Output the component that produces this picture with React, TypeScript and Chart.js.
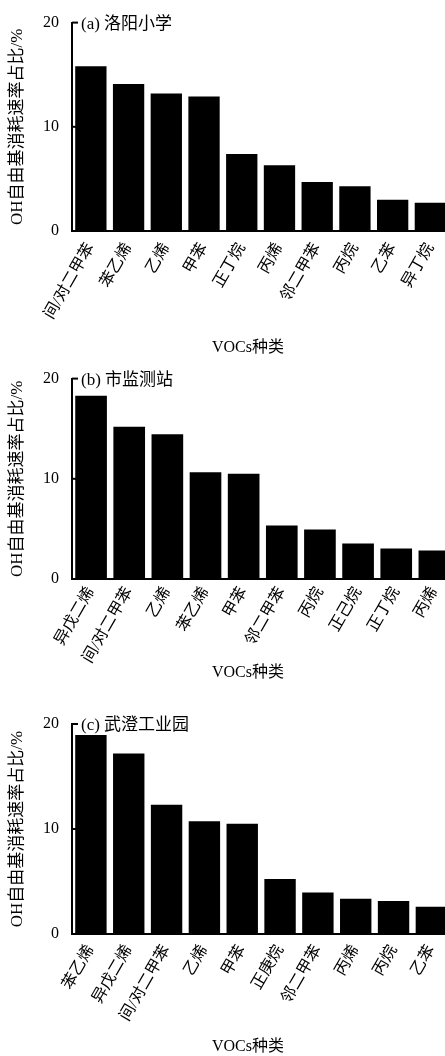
import React, { useEffect, useRef } from "react";
import { Chart, registerables } from "chart.js";
Chart.register(...registerables);

const yTickValues = [0, 10, 20];
const yTitle = "OH自由基消耗速率占比/%";
const xTitle = "VOCs种类";

const titleA = "(a) 洛阳小学";
const catsA = ["间/对二甲苯", "苯乙烯", "乙烯", "甲苯", "正丁烷", "丙烯", "邻二甲苯", "丙烷", "乙苯", "异丁烷"];
const valsA = [15.8, 14.1, 13.2, 12.9, 7.4, 6.3, 4.7, 4.3, 3.0, 2.7];

const titleB = "(b) 市监测站";
const catsB = ["异戊二烯", "间/对二甲苯", "乙烯", "苯乙烯", "甲苯", "邻二甲苯", "丙烷", "正己烷", "正丁烷", "丙烯"];
const valsB = [18.3, 15.2, 14.45, 10.65, 10.5, 5.35, 4.95, 3.55, 3.05, 2.85];

const titleC = "(c) 武澄工业园";
const catsC = ["苯乙烯", "异戊二烯", "间/对二甲苯", "乙烯", "甲苯", "正庚烷", "邻二甲苯", "丙烯", "丙烷", "乙苯"];
const valsC = [18.95, 17.2, 12.3, 10.75, 10.5, 5.25, 3.95, 3.35, 3.15, 2.6];

const FONT = '"Liberation Serif", "Noto Sans CJK SC", serif';
const CANVAS_W = 456;

type PanelProps = {
  top: number;
  height: number;
  chartTop: number;
  chartBottom: number;
  xTitleY: number;
  labelPad: number;
  title: string;
  cats: string[];
  vals: number[];
};

function Panel({ top, height, chartTop, chartBottom, xTitleY, labelPad, title, cats, vals }: PanelProps) {
  const ref = useRef<HTMLCanvasElement | null>(null);
  useEffect(() => {
    if (!ref.current) return;
    const deco = {
      id: "deco",
      afterDraw(chart: any) {
        const ctx = chart.ctx;
        const ca = chart.chartArea;
        const ys = chart.scales.y;
        ctx.save();
        ctx.strokeStyle = "#000";
        ctx.lineWidth = 2;
        yTickValues.forEach((v) => {
          const y = ys.getPixelForValue(v);
          ctx.beginPath();
          ctx.moveTo(ca.left, y);
          ctx.lineTo(ca.left + 6, y);
          ctx.stroke();
        });
        ctx.fillStyle = "#000";
        ctx.font = `17px ${FONT}`;
        ctx.textAlign = "left";
        ctx.textBaseline = "middle";
        ctx.fillText(title, ca.left + 9, ca.top + 2);
        ctx.font = `16px ${FONT}`;
        ctx.textAlign = "center";
        ctx.fillText(xTitle, ca.left + 176, xTitleY);
        ctx.font = `17px ${FONT}`;
        ctx.translate(18, (ca.top + ca.bottom) / 2);
        ctx.rotate(-Math.PI / 2);
        ctx.textAlign = "center";
        ctx.fillText(yTitle, 0, 0);
        ctx.restore();
      },
    };
    const chart = new Chart(ref.current, {
      type: "bar",
      data: {
        labels: cats,
        datasets: [
          {
            data: vals,
            backgroundColor: "#000",
            borderWidth: 0,
            barPercentage: 0.83,
            categoryPercentage: 1,
          },
        ],
      },
      options: {
        responsive: false,
        animation: false,
        layout: { padding: { top: chartTop, bottom: 0, left: 0, right: 0 } },
        plugins: { legend: { display: false }, tooltip: { enabled: false } },
        scales: {
          x: {
            grid: { display: false, drawTicks: false },
            border: { display: true, color: "#000", width: 2 },
            ticks: {
              color: "#000",
              font: { family: FONT, size: 16 },
              maxRotation: 60,
              minRotation: 60,
              padding: labelPad,
              autoSkip: false,
            },
            afterFit: (s: any) => {
              s.height = height - chartBottom;
            },
          },
          y: {
            min: 0,
            max: 20,
            grid: { display: false, drawTicks: false },
            border: { display: true, color: "#000", width: 2 },
            ticks: {
              color: "#000",
              font: { family: FONT, size: 16 },
              padding: 13,
            },
            afterBuildTicks: (s: any) => {
              s.ticks = yTickValues.map((v) => ({ value: v }));
            },
            afterFit: (s: any) => {
              s.width = 72;
            },
          },
        },
      },
      plugins: [deco],
    } as any);
    return () => chart.destroy();
  }, []);
  return (
    <canvas
      ref={ref}
      width={CANVAS_W}
      height={height}
      style={{ position: "absolute", left: 0, top, width: CANVAS_W, height }}
    />
  );
}

export default function App() {
  return (
    <div
      style={{
        position: "absolute",
        left: 0,
        top: 0,
        width: 445,
        height: 1056,
        overflow: "hidden",
        background: "#fff",
      }}
    >
      <Panel top={0} height={356} chartTop={21} chartBottom={231} xTitleY={348} labelPad={9} title={titleA} cats={catsA} vals={valsA} />
      <Panel top={356} height={334} chartTop={15} chartBottom={223} xTitleY={317} labelPad={5} title={titleB} cats={catsB} vals={valsB} />
      <Panel top={690} height={366} chartTop={34} chartBottom={244} xTitleY={357} labelPad={8} title={titleC} cats={catsC} vals={valsC} />
    </div>
  );
}
